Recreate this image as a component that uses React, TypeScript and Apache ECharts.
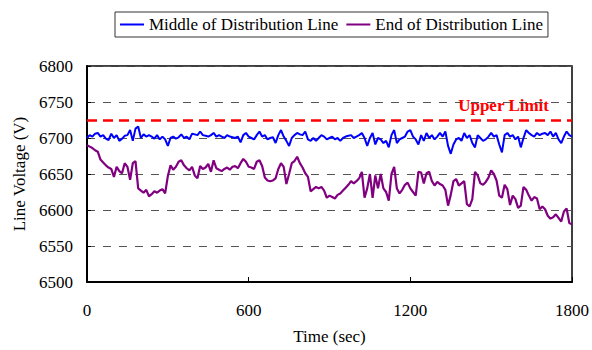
import React, { useEffect, useRef } from "react";
import * as echarts from "echarts";

// Sampled every 10 s from 0 to 1800 s
const TIME_STEP_SEC = 10;

const middleOfLine: number[] = [
  6700, 6704, 6702, 6706, 6707, 6702, 6704, 6699, 6697, 6706,
  6700, 6704, 6696, 6699, 6703, 6704, 6711, 6696, 6713, 6716,
  6700, 6705, 6702, 6704, 6702, 6699, 6704, 6698, 6702, 6698,
  6689, 6700, 6702, 6699, 6701, 6705, 6700, 6702, 6698, 6706,
  6705, 6704, 6709, 6704, 6703, 6702, 6704, 6707, 6702, 6704,
  6702, 6700, 6704, 6702, 6701, 6700, 6702, 6694, 6704, 6707,
  6702, 6700, 6698, 6704, 6709, 6702, 6704, 6698, 6700, 6701,
  6693, 6704, 6711, 6702, 6696, 6689, 6700, 6704, 6707, 6705,
  6704, 6709, 6698, 6696, 6700, 6696, 6700, 6704, 6702, 6698,
  6700, 6702, 6698, 6700, 6696, 6700, 6702, 6703, 6704, 6700,
  6702, 6704, 6707, 6700, 6689, 6700, 6707, 6691, 6700, 6698,
  6693, 6696, 6687, 6704, 6711, 6693, 6698, 6700, 6702, 6709,
  6711, 6702, 6698, 6691, 6704, 6696, 6707, 6700, 6704, 6698,
  6702, 6707, 6702, 6709, 6689, 6678, 6691, 6698, 6700, 6696,
  6707, 6700, 6704, 6693, 6687, 6704, 6700, 6696, 6698, 6702,
  6707, 6702, 6704, 6691, 6680, 6704, 6707, 6702, 6704, 6698,
  6702, 6687, 6700, 6711, 6707, 6704, 6702, 6707, 6704, 6706,
  6707, 6704, 6709, 6702, 6707, 6698, 6693, 6702, 6709, 6704,
  6702,
];

const endOfLine: number[] = [
  6690, 6688, 6686, 6683, 6681, 6670, 6666, 6662, 6659, 6657,
  6646, 6660, 6654, 6651, 6665, 6660, 6642, 6665, 6668, 6630,
  6627, 6624, 6628, 6619, 6622, 6626, 6624, 6627, 6629, 6623,
  6647, 6662, 6656, 6660, 6667, 6669, 6662, 6658, 6655, 6660,
  6648, 6644, 6661, 6657, 6659, 6664, 6653, 6669, 6658, 6656,
  6654, 6657, 6659, 6656, 6660, 6661, 6658, 6665, 6671, 6667,
  6660, 6659, 6657, 6667, 6669, 6661, 6645, 6641, 6640, 6641,
  6644, 6657, 6665, 6660, 6636, 6650, 6665, 6668, 6674, 6665,
  6659, 6651, 6646, 6626, 6629, 6632, 6630, 6632, 6627, 6617,
  6620, 6618, 6616, 6621, 6623, 6627, 6631, 6635, 6640, 6637,
  6640, 6644, 6653, 6617, 6630, 6650, 6617, 6648, 6630, 6650,
  6630, 6625, 6613, 6650, 6660, 6630, 6623, 6628, 6635, 6638,
  6630, 6625, 6620, 6653, 6652, 6637, 6651, 6653, 6640, 6634,
  6639, 6636, 6634, 6628, 6606, 6621, 6640, 6643, 6634, 6637,
  6640, 6608, 6605, 6615, 6653, 6648, 6637, 6635, 6639, 6645,
  6655, 6650, 6641, 6620, 6617, 6635, 6629, 6607, 6620, 6615,
  6603, 6606, 6632, 6628, 6620, 6613, 6618, 6616, 6601, 6605,
  6601, 6592, 6588, 6590, 6594, 6589, 6584, 6598, 6602, 6582,
  6580,
];

const seriesNames = ["Middle of Distribution Line", "End of Distribution Line"];
const upperLimit = 6725;
const upperLimitLabel = "Upper Limit";
const xTicks = [0, 600, 1200, 1800];
const yRange = [6500, 6800];

const FONT = "Liberation Serif, Times New Roman, serif";

export default function App() {
  const ref = useRef<HTMLDivElement>(null);

  useEffect(() => {
    if (!ref.current) return;
    const chart = echarts.init(ref.current, undefined, { renderer: "svg" });
    const mid = middleOfLine.map((v, i) => [i * TIME_STEP_SEC, v]);
    const end = endOfLine.map((v, i) => [i * TIME_STEP_SEC, v]);

    chart.setOption({
      animation: false,
      backgroundColor: "#ffffff",
      textStyle: { fontFamily: FONT, color: "#000" },
      legend: {
        left: 115,
        top: 12,
        data: seriesNames,
        icon: "rect",
        itemWidth: 24,
        itemHeight: 2,
        itemGap: 8,
        padding: [4, 5],
        borderColor: "#333",
        borderWidth: 1,
        textStyle: { fontFamily: FONT, fontSize: 17, color: "#000" },
      },
      grid: {
        left: 87,
        right: 19,
        top: 66,
        bottom: 66,
        show: true,
        borderColor: "#000",
        borderWidth: 1.5,
        backgroundColor: "transparent",
      },
      xAxis: {
        type: "value",
        min: xTicks[0],
        max: xTicks[xTicks.length - 1],
        interval: 600,
        name: "Time (sec)",
        nameLocation: "middle",
        nameGap: 46,
        nameTextStyle: { fontFamily: FONT, fontSize: 17, color: "#000" },
        axisLine: { show: true, lineStyle: { color: "#000", width: 2 } },
        axisTick: { show: true, inside: true, length: 5, lineStyle: { color: "#000", width: 1 } },
        axisLabel: {
          fontFamily: FONT,
          fontSize: 17,
          color: "#000",
          margin: 20,
          formatter: (v: number) => String(v),
        },
        splitLine: { show: false },
      },
      yAxis: {
        type: "value",
        min: yRange[0],
        max: yRange[1],
        interval: 50,
        name: "Line Voltage (V)",
        nameLocation: "middle",
        nameGap: 55,
        nameRotate: 90,
        nameTextStyle: { fontFamily: FONT, fontSize: 17, color: "#000" },
        axisLine: { show: true, lineStyle: { color: "#000", width: 2 } },
        axisTick: { show: true, inside: true, length: 4, lineStyle: { color: "#000", width: 1 } },
        axisLabel: {
          fontFamily: FONT,
          fontSize: 17,
          color: "#000",
          margin: 14,
          formatter: (v: number) => String(v),
        },
        splitLine: {
          show: true,
          lineStyle: { color: "#555", width: 1.2, type: [8, 8] },
        },
      },
      series: [
        {
          name: seriesNames[0],
          type: "line",
          data: mid,
          showSymbol: false,
          symbol: "none",
          lineStyle: { color: "#0000ff", width: 2 },
          itemStyle: { color: "#0000ff" },
          z: 3,
          markLine: {
            silent: true,
            symbol: "none",
            lineStyle: { color: "#ff0000", width: 2.5, type: [10, 6] },
            label: {
              show: true,
              position: "insideEndTop",
              formatter: upperLimitLabel,
              color: "#ff0000",
              fontFamily: FONT,
              fontSize: 17,
              fontWeight: "bold",
              distance: [23, 6],
            },
            data: [{ yAxis: upperLimit }],
          },
        },
        {
          name: seriesNames[1],
          type: "line",
          data: end,
          showSymbol: false,
          symbol: "none",
          lineStyle: { color: "#800080", width: 2.2 },
          itemStyle: { color: "#800080" },
          z: 2,
        },
      ],
    });
    return () => chart.dispose();
  }, []);

  return (
    <div
      ref={ref}
      style={{ position: "fixed", left: 0, top: 0, width: 592, height: 350, background: "#fff" }}
    />
  );
}
